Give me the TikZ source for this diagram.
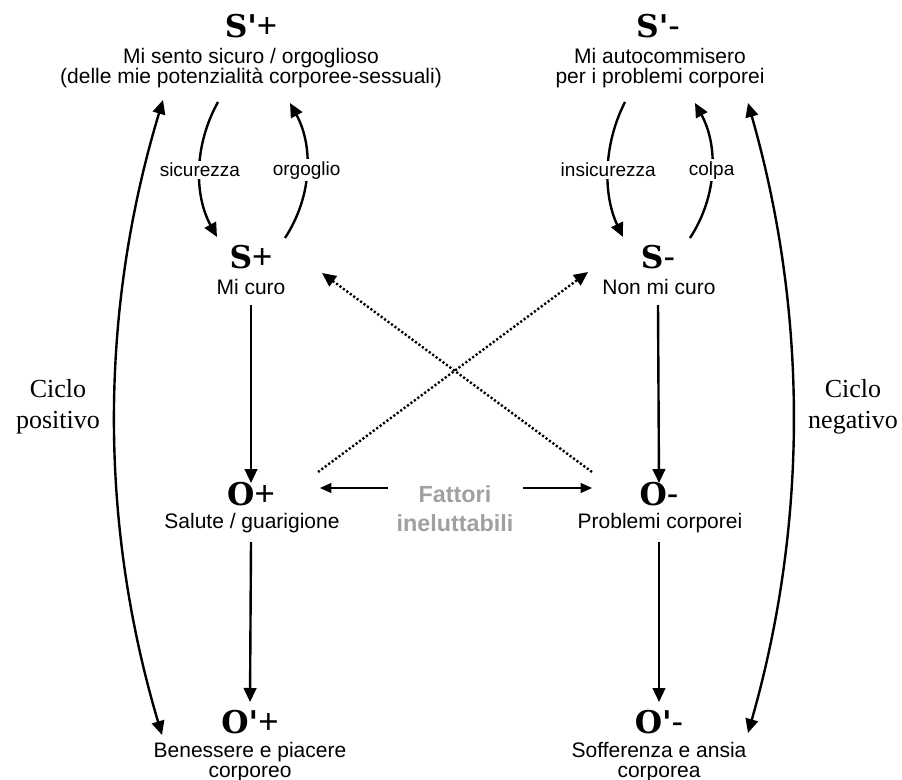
\documentclass[tikz,border=0pt]{standalone}
\usepackage{fontspec}
\setmainfont{Liberation Sans}
\newfontfamily\ttlfont{DejaVu Serif}[Ligatures=TeXOff]
\newfontfamily\cyclefont{Liberation Serif}
\usetikzlibrary{arrows.meta}
\definecolor{fadegray}{RGB}{160,160,160}
\newcommand\signmark[1]{{\normalfont\fontsize{26}{26}\selectfont #1}}

\begin{document}
\begin{tikzpicture}[x=0.75pt,y=-0.75pt,
  title/.style={font=\ttlfont\bfseries\fontsize{23.5}{24}\selectfont, inner sep=0pt, anchor=base},
  desc/.style={font=\fontsize{15.75}{15}\selectfont, align=center, inner sep=0pt, anchor=north},
  lbl/.style={font=\fontsize{14.25}{15}\selectfont, fill=white, inner sep=1.5pt},
  cyc/.style={font=\cyclefont\fontsize{19.5}{23}\selectfont, align=center, inner sep=0pt},
  tip/.style={-{Triangle[length=10.5pt,width=9.5pt]}},
  arr/.style={line width=1.8pt, tip},
  dblarr/.style={line width=1.8pt, {Triangle[length=10.5pt,width=9.5pt]}-{Triangle[length=10.5pt,width=9.5pt]}},
  dotarr/.style={line width=1.8pt, dash pattern=on 1.6pt off 1.6pt, tip},
  thinarr/.style={line width=0.8pt, -{Triangle[length=8.5pt,width=7.5pt]}}]
  \useasboundingbox (0,0) rectangle (902,780);

  % stati soggettivi (S) e oggettivi (O)
  \node[title] (spp) at (251,38) {S'\signmark{+}};
  \node[desc]  (sppt) at (251,48) {Mi sento sicuro / orgoglioso\\(delle mie potenzialità corporee-sessuali)};
  \node[title] (spm) at (658,38) {S'\signmark{-}};
  \node[desc]  (spmt) at (660,48) {Mi autocommisero\\per i problemi corporei};

  \node[title] (sp) at (251,269) {S\signmark{+}};
  \node[desc]  (spt) at (251,279) {Mi curo};
  \node[title] (sm) at (658,269) {S\signmark{-}};
  \node[desc]  (smt) at (659,279) {Non mi curo};

  \node[title] (op) at (251,505) {O\signmark{+}};
  \node[desc]  (opt) at (252,513) {Salute / guarigione};
  \node[title] (om) at (659,505) {O\signmark{-}};
  \node[desc]  (omt) at (660,513) {Problemi corporei};

  \node[title] (opp) at (250,733) {O'\signmark{+}};
  \node[desc]  (oppt) at (250,742) {Benessere e piacere\\corporeo};
  \node[title] (omp) at (659,733) {O'\signmark{-}};
  \node[desc]  (ompt) at (659,742) {Sofferenza e ansia\\corporea};

  % fattori esterni
  \node[font=\bfseries\fontsize{17.5}{21.75}\selectfont, text=fadegray, align=center,
        inner sep=0pt, anchor=north] (fat) at (455,485) {Fattori\\ineluttabili};

  % cicli
  \node[cyc] (cpos) at (58,407) {Ciclo\\positivo};
  \node[cyc] (cneg) at (853,407) {Ciclo\\negativo};

  % anelli S' <-> S
  \draw[arr] ([shift={(-33,54)}]sppt.north) .. controls +(-24,43) and +(-23,-42) ..
    node[midway,lbl] (lsic) {sicurezza} ([shift={(-34,-32)}]sp.base);
  \draw[arr] ([shift={(34,-31)}]sp.base) .. controls +(28,-43) and +(23,42) ..
    node[midway,lbl] (lorg) {orgoglio} ([shift={(39,55)}]sppt.north);
  \draw[arr] ([shift={(-35,54)}]spmt.north) .. controls +(-22,43) and +(-20,-42) ..
    node[midway,lbl] (lins) {insicurezza} ([shift={(-35,-32)}]sm.base);
  \draw[arr] ([shift={(32,-31)}]sm.base) .. controls +(28,-43) and +(23,42) ..
    node[midway,lbl] (lcol) {colpa} ([shift={(35,55)}]spmt.north);

  % frecce verticali
  \draw[arr] ([shift={(0,36)}]sp.base) -- ([shift={(0,-22)}]op.base);
  \draw[arr] ([shift={(0,37)}]op.base) -- ([shift={(0,-31)}]opp.base);
  \draw[arr] ([shift={(0,36)}]sm.base) -- ([shift={(0,-22)}]om.base);
  \draw[arr] ([shift={(0,37)}]om.base) -- ([shift={(0,-31)}]omp.base);

  % frecce incrociate
  \draw[dotarr] ([shift={(67,-33)}]op.base) -- ([shift={(-70,3)}]sm.base);
  \draw[dotarr] ([shift={(-67,-33)}]om.base) -- ([shift={(71,4)}]sp.base);

  % fattori ineluttabili
  \draw[thinarr] ([shift={(-67,3)}]fat.north) -- ([shift={(69,-17)}]op.base);
  \draw[thinarr] ([shift={(68,3)}]fat.north) -- ([shift={(-67,-17)}]om.base);

  % grandi archi dei cicli
  \draw[dblarr] ([shift={(-88,52)}]sppt.north) .. controls +(-64,212) and +(-63,-212) ..
    ([shift={(-88,2)}]opp.base);
  \draw[dblarr] ([shift={(88,55)}]spmt.north) .. controls +(60,210) and +(60,-210) ..
    ([shift={(89,0)}]omp.base);
\end{tikzpicture}
\end{document}
